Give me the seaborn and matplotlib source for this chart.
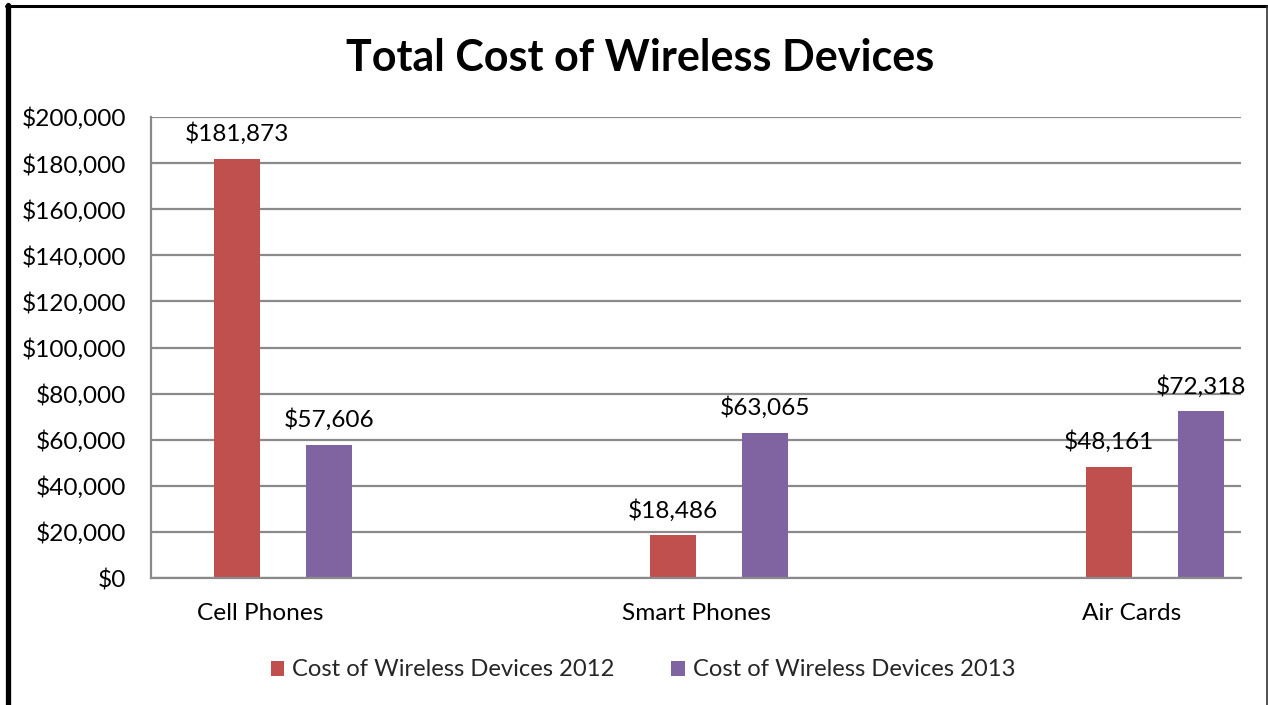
import matplotlib
matplotlib.use("Agg")
import matplotlib.pyplot as plt
import seaborn as sns
import pandas as pd
from matplotlib.patches import Patch
from matplotlib.lines import Line2D

categories = ["Cell Phones", "Smart Phones", "Air Cards"]
cost_2012 = [181873, 18486, 48161]
cost_2013 = [57606, 63065, 72318]
series_names = ["Cost of Wireless Devices 2012", "Cost of Wireless Devices 2013"]
y_ticks = [0, 20000, 40000, 60000, 80000, 100000, 120000, 140000, 160000, 180000, 200000]
title = "Total Cost of Wireless Devices"

red = "#C0504D"
purple = "#8064A2"

df = pd.DataFrame({
    "category": categories * 2,
    "cost": cost_2012 + cost_2013,
    "series": [series_names[0]] * 3 + [series_names[1]] * 3,
})

sns.set_theme(style="white")
plt.rcParams["font.family"] = ["Lato", "DejaVu Sans"]

fs = 17.6

fig = plt.figure(figsize=(12.68, 7.05), dpi=100)
ax = fig.add_axes([151 / 1268, 1 - 578 / 705, (1241 - 151) / 1268, (578 - 117) / 705])

# Excel layout leaves empty series slots on either side of the 2012 bar
hue_order = ["_pad1", series_names[0], "_pad2", series_names[1]]
palette = {"_pad1": "white", series_names[0]: red, "_pad2": "white", series_names[1]: purple}
sns.barplot(data=df, x="category", y="cost", hue="series", hue_order=hue_order,
            order=categories, palette=palette, width=0.42, saturation=1,
            legend=False, ax=ax, errorbar=None, linewidth=0)

for cont in ax.containers:
    ax.bar_label(cont, labels=[f"${v:,.0f}" for v in cont.datavalues],
                 padding=10, fontsize=fs, color="black")

ax.set_xlim(-0.25, 2.25)
ax.set_ylim(0, 200000)
ax.set_yticks(y_ticks)
ax.set_yticklabels([f"${v:,.0f}" for v in y_ticks], fontsize=fs, color="black")
ax.tick_params(axis="x", labelsize=fs, colors="black", pad=18, length=0)
ax.tick_params(axis="y", pad=18, length=0)
ax.set_xlabel("")
ax.set_ylabel("")
ax.yaxis.grid(True, color="#8A8A8A", linewidth=1.6)
ax.set_axisbelow(True)
for s in ["top", "right"]:
    ax.spines[s].set_visible(False)
for s in ["left", "bottom"]:
    ax.spines[s].set_color("#8A8A8A")
    ax.spines[s].set_linewidth(1.6)

fig.text(640 / 1268, 1 - 58 / 705, title, ha="center", va="center",
         fontsize=31, fontweight="bold", color="black")

handles = [Patch(facecolor=red, edgecolor="none"), Patch(facecolor=purple, edgecolor="none")]
fig.legend(handles, series_names, loc="center", bbox_to_anchor=(643 / 1268, 1 - 670 / 705),
           ncol=2, frameon=False, fontsize=17.1, handlelength=0.55, handleheight=0.6,
           handletextpad=0.35, columnspacing=2.4)

# outer frame
fig.add_artist(Line2D([8 / 1268, 8 / 1268], [0, 1 - 5 / 705], transform=fig.transFigure,
                      color="black", linewidth=3.8))
fig.add_artist(Line2D([6 / 1268, 1267 / 1268], [1 - 6 / 705, 1 - 6 / 705], transform=fig.transFigure,
                      color="black", linewidth=2.2))
fig.add_artist(Line2D([1266.5 / 1268, 1266.5 / 1268], [0, 1 - 6 / 705], transform=fig.transFigure,
                      color="#333333", linewidth=1.2))

fig.savefig("out.png", dpi=100)
